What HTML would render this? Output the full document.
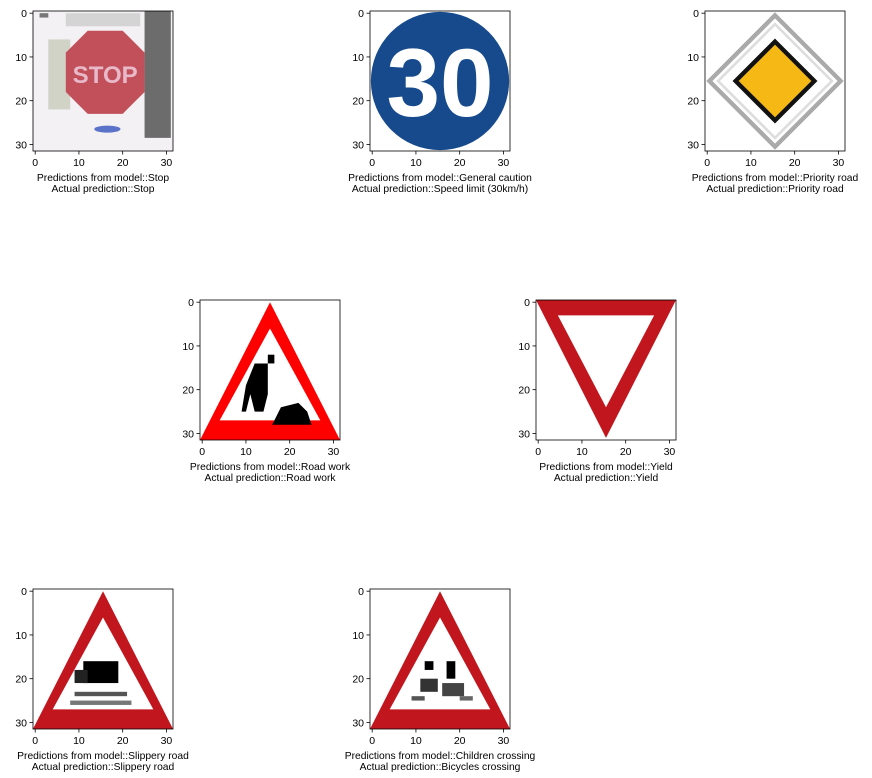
<!DOCTYPE html>
<html><head><meta charset="utf-8"><style>
body{margin:0;background:#fff;}
svg{display:block;font-family:"Liberation Sans","DejaVu Sans",sans-serif;}
</style></head><body>
<svg id="fig" width="872" height="778" viewBox="0 0 872 778">
<defs>
<clipPath id="cp"><rect x="-0.5" y="-0.5" width="32" height="32"/></clipPath>
</defs>
</svg>
<script>
const tickValues=[0,10,20,30];
const panelKinds=["stop","speed30","priority","roadwork","yield","slippery","children"];
const modelPreds=["Stop","General caution","Priority road","Road work","Yield","Slippery road","Children crossing"];
const actualPreds=["Stop","Speed limit (30km/h)","Priority road","Road work","Yield","Slippery road","Bicycles crossing"];
const panelPos=[[33,11],[370,11],[705,11],[200,300],[536,300],[33,589],[370,589]];
const NS="http://www.w3.org/2000/svg";
const fig=document.getElementById('fig');
const S=140,U=S/32;
function el(t,a,p){const e=document.createElementNS(NS,t);for(const k in a)e.setAttribute(k,a[k]);p.appendChild(e);return e;}
function art(kind,g){
  el('rect',{x:-0.5,y:-0.5,width:32,height:32,fill:'#fff'},g);
  if(kind==='stop'){
    el('rect',{x:-0.5,y:-0.5,width:32,height:32,fill:'#f3f1f3'},g);
    el('rect',{x:3,y:6,width:5,height:16,fill:'#d0d3c6'},g);
    el('rect',{x:7,y:0,width:17,height:3,fill:'#d4d4d4'},g);
    el('rect',{x:25,y:-0.5,width:6,height:29,fill:'#6c6c6c'},g);
    el('rect',{x:1,y:0,width:2,height:1,fill:'#777'},g);
    el('polygon',{points:'12,4 20,4 25,9 25,18 20,23 12,23 7,18 7,9',fill:'#c2505a'},g);
    const t=el('text',{x:16,y:16,'font-size':5.5,'text-anchor':'middle',fill:'#e8b9c8','font-weight':'bold'},g);t.textContent='STOP';
    el('ellipse',{cx:16.5,cy:26.5,rx:3,ry:0.8,fill:'#5a73c9'},g);
  }else if(kind==='speed30'){
    el('circle',{cx:15.5,cy:15.5,r:15.8,fill:'#164a8c'},g);
    const t=el('text',{x:15.5,y:23.5,'font-size':22,'text-anchor':'middle',fill:'#fff','font-weight':'bold'},g);t.textContent='30';
  }else if(kind==='priority'){
    el('polygon',{points:'15.5,0.5 30.5,15.5 15.5,30.5 0.5,15.5',fill:'none',stroke:'#aaa','stroke-width':1},g);
    el('polygon',{points:'15.5,2.5 28.5,15.5 15.5,28.5 2.5,15.5',fill:'none',stroke:'#ddd','stroke-width':0.6},g);
    el('polygon',{points:'15.5,6.5 24.5,15.5 15.5,24.5 6.5,15.5',fill:'#f5b815',stroke:'#111','stroke-width':1},g);
  }else if(kind==='yield'){
    el('polygon',{points:'-0.5,-0.5 31.5,-0.5 15.5,31',fill:'#c2161e'},g);
    el('polygon',{points:'4.5,3 26.5,3 15.5,24',fill:'#fff'},g);
  }else{
    const red=kind==='roadwork'?'#ff0000':'#c2161e';
    el('polygon',{points:'15.5,0 31.5,31.5 -0.5,31.5',fill:red},g);
    el('polygon',{points:'15.5,6 27,27 4,27',fill:'#fff'},g);
    if(kind==='roadwork'){
      el('polygon',{points:'12,14 15,14 15,21 14,25 12,25 11,21 10,25 9,25 10,19',fill:'#000'},g);
      el('polygon',{points:'16,28 18,24 22,23 24,25 25,28',fill:'#000'},g);
      el('rect',{x:15,y:12,width:1.5,height:2,fill:'#000'},g);
    }else if(kind==='slippery'){
      el('rect',{x:11,y:16,width:8,height:5,fill:'#000'},g);
      el('rect',{x:9,y:18,width:3,height:3,fill:'#222'},g);
      el('rect',{x:9,y:23,width:12,height:1,fill:'#555'},g);
      el('rect',{x:8,y:25,width:14,height:1,fill:'#777'},g);
    }else{
      el('rect',{x:12,y:16,width:2,height:2,fill:'#000'},g);
      el('rect',{x:17,y:16,width:2,height:4,fill:'#000'},g);
      el('rect',{x:11,y:20,width:4,height:3,fill:'#333'},g);
      el('rect',{x:16,y:21,width:5,height:3,fill:'#444'},g);
      el('rect',{x:9,y:24,width:3,height:1,fill:'#555'},g);
      el('rect',{x:20,y:24,width:3,height:1,fill:'#666'},g);
    }
  }
}
panelKinds.forEach((kind,i)=>{
  const [x0,y0]=panelPos[i];
  const g=el('g',{},fig);
  
  
  const img=el('svg',{x:x0,y:y0,width:S,height:S,viewBox:'-0.5 -0.5 32 32',preserveAspectRatio:'none'},g);
  
  
  const ig=el('g',{'clip-path':'url(#cp)'},img);
  art(kind,ig);
  const fr=el('rect',{x:x0,y:y0,width:S,height:S,fill:'none',stroke:'#000','stroke-width':0.8},g);
  
  
  tickValues.forEach(t=>{
    const p=(t+0.5)*U;
    el('line',{x1:x0+p,y1:y0+S,x2:x0+p,y2:y0+S+3.5,stroke:'#000','stroke-width':0.8},g);
    const tx=el('text',{x:x0+p,y:y0+S+15,'font-size':10.5,'text-anchor':'middle',fill:'#000'},g);
    tx.textContent=t;
    
    
    el('line',{x1:x0,y1:y0+p,x2:x0-3.5,y2:y0+p,stroke:'#000','stroke-width':0.8},g);
    const ty=el('text',{x:x0-6,y:y0+p+4,'font-size':10.5,'text-anchor':'end',fill:'#000'},g);
    ty.textContent=t;
    
    
  });
  const l1=el('text',{x:x0+S/2,y:y0+S+30,'font-size':10.3,'text-anchor':'middle',fill:'#000'},g);
  l1.textContent='Predictions from model::'+modelPreds[i];
  
  
  const l2=el('text',{x:x0+S/2,y:y0+S+41,'font-size':10.3,'text-anchor':'middle',fill:'#000'},g);
  l2.textContent='Actual prediction::'+actualPreds[i];
  
  
});
</script>
</body></html>
